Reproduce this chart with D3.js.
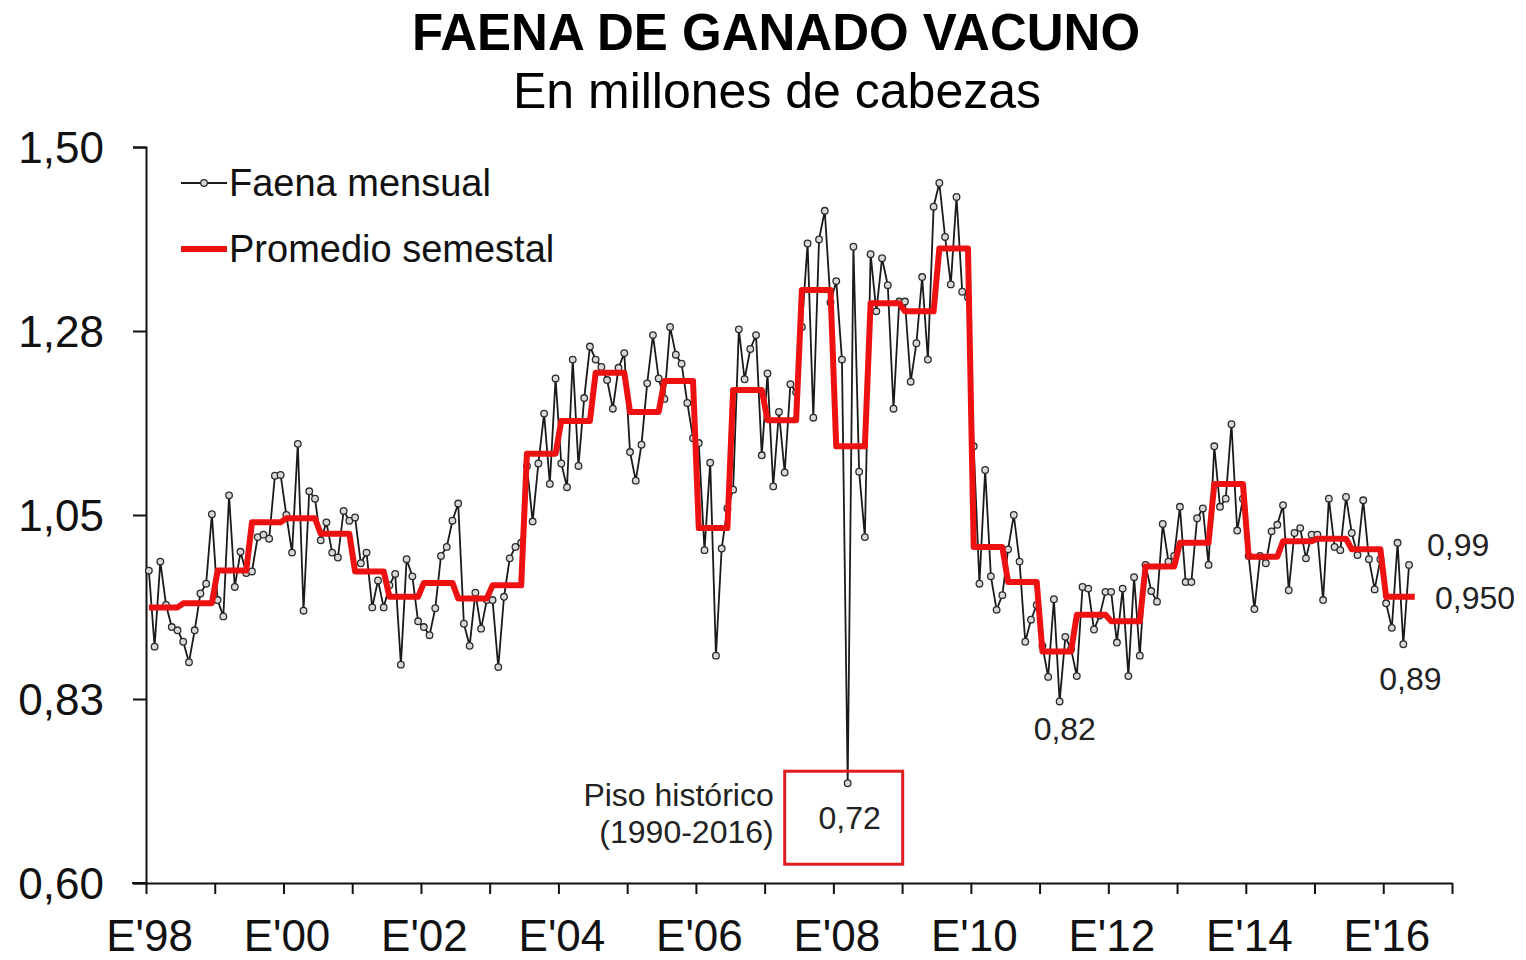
<!DOCTYPE html>
<html>
<head>
<meta charset="utf-8">
<script src="https://cdn.jsdelivr.net/npm/d3@7"></script>
<style>
  body { margin: 0; background: #fff; }
  svg { display: block; font-family: "Liberation Sans", Arial, sans-serif; }
</style>
</head>
<body>
<svg id="chart" width="1526" height="960"></svg>
<script>
/* Faena de ganado vacuno — millones de cabezas, mensual desde enero 1998 */

const faenaMensual = [
  0.982, 0.889, 0.993, 0.940, 0.913, 0.909, 0.895, 0.870, 0.909, 0.954, 0.966, 1.051, // 1998
  0.946, 0.926, 1.074, 0.962, 1.005, 0.979, 0.981, 1.023, 1.026, 1.021, 1.098, 1.099, // 1999
  1.050, 1.004, 1.137, 0.933, 1.079, 1.070, 1.019, 1.041, 1.004, 0.998, 1.055, 1.043, // 2000
  1.047, 0.991, 1.004, 0.937, 0.970, 0.937, 0.964, 0.978, 0.867, 0.996, 0.975, 0.920, // 2001
  0.913, 0.903, 0.936, 1.000, 1.011, 1.043, 1.064, 0.917, 0.890, 0.955, 0.911, 0.946, // 2002
  0.946, 0.864, 0.950, 0.997, 1.011, 1.016, 1.110, 1.042, 1.113, 1.174, 1.088, 1.217, // 2003
  1.113, 1.084, 1.240, 1.110, 1.193, 1.256, 1.240, 1.231, 1.215, 1.180, 1.230, 1.248, // 2004
  1.127, 1.092, 1.136, 1.211, 1.270, 1.217, 1.192, 1.280, 1.246, 1.235, 1.187, 1.144, // 2005
  1.138, 1.007, 1.114, 0.878, 1.009, 1.058, 1.081, 1.277, 1.216, 1.253, 1.270, 1.123, // 2006
  1.223, 1.085, 1.176, 1.102, 1.210, 1.200, 1.280, 1.382, 1.169, 1.387, 1.422, 1.310, // 2007
  1.336, 1.240, 0.722, 1.378, 1.103, 1.023, 1.369, 1.299, 1.364, 1.331, 1.180, 1.311, // 2008
  1.311, 1.213, 1.260, 1.341, 1.240, 1.427, 1.456, 1.390, 1.332, 1.439, 1.323, 1.316, // 2009
  1.134, 0.966, 1.105, 0.975, 0.934, 0.952, 1.008, 1.050, 0.993, 0.895, 0.922, 0.940, // 2010
  0.890, 0.852, 0.947, 0.822, 0.901, 0.886, 0.853, 0.962, 0.960, 0.910, 0.927, 0.956, // 2011
  0.956, 0.894, 0.960, 0.853, 0.974, 0.878, 0.989, 0.957, 0.944, 1.039, 0.993, 1.000, // 2012
  1.060, 0.968, 0.968, 1.046, 1.058, 0.989, 1.134, 1.060, 1.070, 1.161, 1.031, 1.070, // 2013
  1.000, 0.935, 1.000, 0.991, 1.030, 1.038, 1.062, 0.958, 1.028, 1.034, 0.997, 1.026, // 2014
  1.026, 0.946, 1.070, 1.011, 1.007, 1.072, 1.028, 1.001, 1.068, 0.996, 0.959, 0.996, // 2015
  0.942, 0.912, 1.016, 0.892, 0.989                                                   // 2016
];

// promedio de cada semestre (1º y 2º), desde 1998
const promedioSemestral = [
  0.937, 0.942, 0.982, 1.041, 1.046, 1.027, 0.981, 0.950, 0.967, 0.948,
  0.964, 1.125, 1.165, 1.224, 1.176, 1.214, 1.034, 1.203, 1.166, 1.325,
  1.134, 1.309, 1.299, 1.376, 1.011, 0.968, 0.883, 0.928, 0.920, 0.987,
  1.016, 1.088, 0.999, 1.018, 1.021, 1.008, 0.950
];

const anioInicio = 1998;
const anioFin = 2017;
const yTicks = [0.60, 0.825, 1.05, 1.275, 1.50];
const yTickLabels = ["0,60", "0,83", "1,05", "1,28", "1,50"];

const notas = [
  { mes: 220, valor: 0.99,  texto: "0,99" },
  { mes: 219, valor: 0.892, texto: "0,89" },
  { mes: 159, valor: 0.822, texto: "0,82" }
];

const svg = d3.select("#chart");
const W = 1526, H = 960;
const margin = { top: 147, right: 74, bottom: 77, left: 146 };

const x = d3.scaleLinear()
  .domain([0, (anioFin - anioInicio) * 12])
  .range([margin.left, W - margin.right]);

const y = d3.scaleLinear()
  .domain([0.60, 1.50])
  .range([H - margin.bottom, margin.top]);

// points sit in the middle of each month
const xm = m => x(m + 0.5);
const fmt = v => d3.format(".2f")(v).replace(".", ",");

// titles
svg.append("text")
  .attr("x", 776).attr("y", 50)
  .attr("text-anchor", "middle")
  .attr("font-size", 51).attr("font-weight", "bold")
  .text("FAENA DE GANADO VACUNO");

svg.append("text")
  .attr("x", 777).attr("y", 108)
  .attr("text-anchor", "middle")
  .attr("font-size", 50)
  .text("En millones de cabezas");

// axes
const yAxis = svg.append("g")
  .attr("transform", `translate(${margin.left},0)`)
  .call(d3.axisLeft(y).tickValues(yTicks)
    .tickFormat((d, i) => yTickLabels[i])
    .tickSize(13).tickPadding(29));

const xAxis = svg.append("g")
  .attr("transform", `translate(0,${H - margin.bottom})`)
  .call(d3.axisBottom(x)
    .tickValues(d3.range(0, (anioFin - anioInicio) * 12 + 1, 12))
    .tickFormat(d => {
      const yr = anioInicio + d / 12;
      return (yr % 2 === 0 && yr < anioFin) ? "E'" + String(yr).slice(2) : "";
    })
    .tickSize(11).tickPadding(25).tickSizeOuter(0));

[yAxis, xAxis].forEach(a => {
  a.select(".domain").attr("stroke", "#111").attr("stroke-width", 2);
  a.selectAll(".tick line").attr("stroke", "#111").attr("stroke-width", 2);
  a.selectAll(".tick text").attr("font-size", 44).attr("fill", "#111")
    .attr("font-family", "\"Liberation Sans\", Arial, sans-serif");
});
yAxis.selectAll(".tick text").attr("dy", "0.36em");
xAxis.selectAll(".tick text").attr("dy", "0.72em").attr("dx", 3);

// x axis line runs a bit to the left, under the 0,60 tick
svg.append("line")
  .attr("x1", margin.left - 14).attr("x2", margin.left)
  .attr("y1", y(0.60)).attr("y2", y(0.60))
  .attr("stroke", "#111").attr("stroke-width", 2);

// monthly series
const mensual = faenaMensual.map((v, i) => ({ m: i, v }));

svg.append("path")
  .datum(mensual)
  .attr("fill", "none")
  .attr("stroke", "#1a1a1a")
  .attr("stroke-width", 1.8)
  .attr("d", d3.line().x(d => xm(d.m)).y(d => y(d.v)));

svg.append("g")
  .selectAll("circle")
  .data(mensual)
  .enter().append("circle")
  .attr("cx", d => xm(d.m))
  .attr("cy", d => y(d.v))
  .attr("r", 3.3)
  .attr("fill", "#d8d8d8")
  .attr("stroke", "#2a2a2a")
  .attr("stroke-width", 1.3);

// semester average, each month carries its semester value
const semestral = d3.range(promedioSemestral.length * 6)
  .map(m => ({ m, v: promedioSemestral[Math.floor(m / 6)] }));

svg.append("path")
  .datum(semestral)
  .attr("fill", "none")
  .attr("stroke", "#ee1111")
  .attr("stroke-width", 6)
  .attr("stroke-linejoin", "round")
  .attr("d", d3.line().x(d => xm(d.m)).y(d => y(d.v)));

// legend
const lg = svg.append("g");
lg.append("line").attr("x1", 181).attr("x2", 227).attr("y1", 183).attr("y2", 183)
  .attr("stroke", "#1a1a1a").attr("stroke-width", 1.8);
lg.append("circle").attr("cx", 204).attr("cy", 183).attr("r", 3.3)
  .attr("fill", "#d8d8d8").attr("stroke", "#2a2a2a").attr("stroke-width", 1.3);
lg.append("text").attr("x", 229).attr("y", 196).attr("font-size", 38)
  .attr("fill", "#111").text("Faena mensual");
lg.append("line").attr("x1", 181).attr("x2", 227).attr("y1", 249).attr("y2", 249)
  .attr("stroke", "#ee1111").attr("stroke-width", 6);
lg.append("text").attr("x", 229).attr("y", 262).attr("font-size", 38)
  .attr("fill", "#111").text("Promedio semestal");

// value labels
const ann = svg.append("g").attr("font-size", 32).attr("fill", "#222");
ann.append("text").attr("x", xm(notas[0].mes) + 18).attr("y", y(notas[0].valor) - 8)
  .text(notas[0].texto);
ann.append("text").attr("x", xm(notas[1].mes) - 24).attr("y", y(notas[1].valor) + 46)
  .text(notas[1].texto);
ann.append("text").attr("x", xm(notas[2].mes) - 26).attr("y", y(notas[2].valor) + 39)
  .text(notas[2].texto);

const ultimoSem = promedioSemestral[promedioSemestral.length - 1];
ann.append("text").attr("x", 1435).attr("y", y(ultimoSem) + 12)
  .text(d3.format(".3f")(ultimoSem).replace(".", ","));

// piso histórico
const pisoMes = faenaMensual.indexOf(d3.min(faenaMensual));
const pisoX = xm(pisoMes), pisoY = y(faenaMensual[pisoMes]);
ann.append("rect")
  .attr("x", pisoX - 63).attr("y", pisoY - 12)
  .attr("width", 118).attr("height", 93)
  .attr("fill", "none").attr("stroke", "#e01b22").attr("stroke-width", 3);
ann.append("text").attr("x", pisoX + 2).attr("y", pisoY + 46)
  .attr("text-anchor", "middle").text(fmt(faenaMensual[pisoMes]));
ann.append("text").attr("x", pisoX - 74).attr("y", pisoY + 23)
  .attr("text-anchor", "end").text("Piso histórico");
ann.append("text").attr("x", pisoX - 74).attr("y", pisoY + 60)
  .attr("text-anchor", "end").text("(1990-2016)");
</script>
</body>
</html>
